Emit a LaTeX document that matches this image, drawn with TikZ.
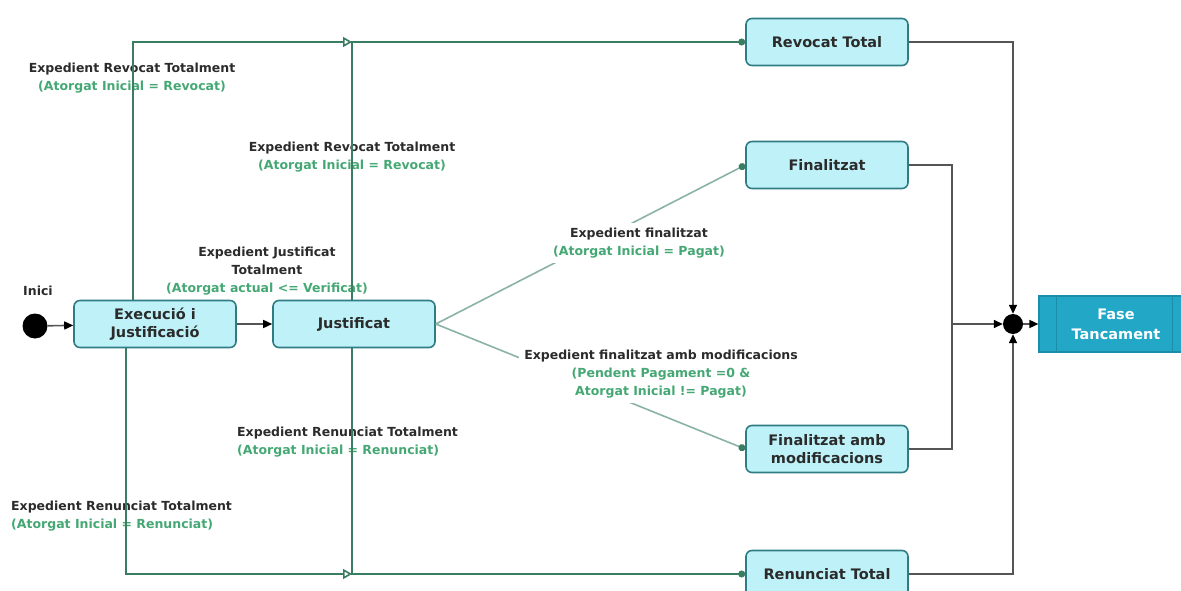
\documentclass[tikz,border=0pt]{standalone}
\usepackage{fontspec}
\setmainfont{DejaVu Sans}
\usetikzlibrary{arrows.meta}
\definecolor{txt}{HTML}{2B2B2B}
\definecolor{grn}{HTML}{45A874}
\definecolor{gline}{HTML}{3A7D62}
\definecolor{dline}{HTML}{8AB3A3}
\definecolor{bline}{HTML}{555555}
\definecolor{boxf}{HTML}{BFF2F8}
\definecolor{boxb}{HTML}{2F7C84}
\definecolor{fasef}{HTML}{22A7C7}
\definecolor{faseb}{HTML}{1B8DA8}
\begin{document}
\begin{tikzpicture}[x=1pt,y=-1pt,
  state/.style={draw=boxb, fill=boxf, rounded corners=6pt, line width=1.6pt,
    minimum width=162pt, minimum height=47pt, inner sep=2pt,
    font=\fontsize{14.5}{18}\selectfont\bfseries, text=txt, align=center},
  fasebox/.style={draw=faseb, fill=fasef, line width=1.2pt,
    minimum width=144pt, minimum height=56pt, inner sep=0pt,
    font=\fontsize{14.5}{20}\selectfont\bfseries, text=white, align=center},
  lbl/.style={font=\fontsize{12.5}{18}\selectfont\bfseries, text=txt, inner sep=0pt},
  lblw/.style={lbl, fill=white, inner sep=5pt},
  gconn/.style={draw=gline, line width=1.6pt},
  dconn/.style={draw=dline, line width=1.6pt},
  bconn/.style={draw=bline, line width=1.6pt},
  dottip/.style={-{Circle[length=7pt,fill=gline,color=gline]}},
  opentip/.style={-{Triangle[open,length=9pt,width=10pt]}},
  blacktip/.style={-{Triangle[length=9pt,width=8pt,fill=black,color=black]}}
]
\useasboundingbox (0,0) rectangle (1181,591);

% nodes
\node[circle, fill=black, minimum size=25pt, inner sep=0pt] (ini) at (35,326) {};
\node[lbl] (inilbl) at (38,291) {Inici};
\node[state] (exec) at (155,324) {Execució i\\Justificació};
\node[state] (just) at (354,324) {Justificat};
\node[state] (rev) at (827,42) {Revocat Total};
\node[state] (fin) at (827,165) {Finalitzat};
\node[state] (finm) at (827,449) {Finalitzat amb\\modificacions};
\node[state] (ren) at (827,574) {Renunciat Total};
\node[circle, fill=black, minimum size=20pt, inner sep=0pt] (join) at (1013,324) {};
\node[fasebox] (fase) at (1111,324) {\hspace*{10pt}Fase\\\hspace*{10pt}Tancament};
\draw[faseb, line width=1pt] ([xshift=18pt]fase.north west) -- ([xshift=18pt]fase.south west);
\draw[faseb, line width=1pt] ([xshift=-11pt]fase.north east) -- ([xshift=-11pt]fase.south east);

\coordinate (mtop) at (352,42);
\coordinate (mbot) at (352,574);
\coordinate (jx) at (952,324);

% diagonal transitions (under white labels)
\draw[dconn, dottip] (just.east) -- (fin.west);
\draw[dconn, dottip] (just.east) -- (finm.west);

% labels
\node[lbl, align=center] (l1) at (132,78) {Expedient Revocat Totalment\\\textcolor{grn}{(Atorgat Inicial = Revocat)}};
\node[lbl, align=center] (l2) at (352,157) {Expedient Revocat Totalment\\\textcolor{grn}{(Atorgat Inicial = Revocat)}};
\node[lbl, align=center] (l3) at (267,271) {Expedient Justificat\\Totalment\\\textcolor{grn}{(Atorgat actual <= Verificat)}};
\node[lbl, align=left, anchor=west] (l4) at (237,442) {Expedient Renunciat Totalment\\\textcolor{grn}{(Atorgat Inicial = Renunciat)}};
\node[lbl, align=left, anchor=west] (l7) at (11,516) {Expedient Renunciat Totalment\\\textcolor{grn}{(Atorgat Inicial = Renunciat)}};
\node[lblw, align=center] (l5) at (639,243) {Expedient finalitzat\\\textcolor{grn}{(Atorgat Inicial = Pagat)}};
\node[lblw, align=center] (l6) at (661,374) {Expedient finalitzat amb modificacions\\\textcolor{grn}{(Pendent Pagament =0 \&}\\\textcolor{grn}{Atorgat Inicial != Pagat)}};

% black transitions
\draw[bconn, blacktip] (ini) -- (exec);
\draw[bconn, blacktip] (exec) -- (just);

% green orthogonal transitions
\draw[gconn, opentip] ([xshift=-22pt]exec.north) |- (mtop);
\draw[gconn, dottip] ([xshift=-2pt]just.north) |- (rev.west);
\draw[gconn, opentip] ([xshift=-29pt]exec.south) |- (mbot);
\draw[gconn, dottip] ([xshift=-2pt]just.south) |- (ren.west);

% to the join
\draw[bconn, blacktip] (rev.east) -| (join.north);
\draw[bconn] (finm.east) -| (jx);
\draw[bconn, blacktip] (fin.east) -| (jx) -- (join.west);
\draw[bconn, blacktip] (ren.east) -| (join.south);
\draw[bconn, blacktip] (join.east) -- (fase.west);
\end{tikzpicture}
\end{document}
